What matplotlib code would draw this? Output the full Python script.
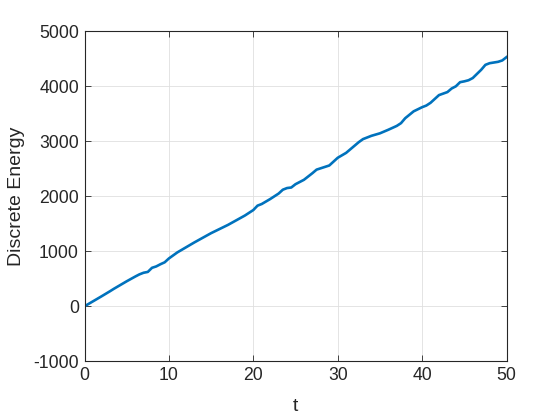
import matplotlib.pyplot as plt

# Values
t = [0, 1, 2, 3, 3.5, 4, 5, 6, 6.5, 7, 7.5, 8, 8.5, 9, 9.5, 10, 11, 12, 13, 14,
     15, 16, 17, 18, 19, 20, 20.5, 21, 22, 23, 23.5, 24, 24.5, 25, 26, 27, 27.5,
     28, 29, 30, 31, 32, 32.5, 33, 34, 35, 36, 37, 37.5, 38, 39, 40, 40.5, 41,
     42, 43, 43.5, 44, 44.5, 45, 45.5, 46, 47, 47.5, 48, 49, 49.5, 50]
energy = [0, 90, 180, 272, 320, 365, 455, 540, 580, 610, 625, 700, 725, 765, 800,
          870, 980, 1070, 1160, 1245, 1330, 1405, 1480, 1565, 1650, 1750, 1830,
          1860, 1950, 2050, 2120, 2150, 2160, 2220, 2300, 2420, 2485, 2510, 2560,
          2700, 2790, 2920, 2985, 3040, 3100, 3145, 3210, 3280, 3330, 3420, 3545,
          3620, 3650, 3700, 3840, 3895, 3960, 4000, 4075, 4090, 4110, 4150, 4300,
          4390, 4420, 4445, 4470, 4530]

plt.rcParams['font.family'] = ['Liberation Sans', 'DejaVu Sans']
plt.rcParams['axes.unicode_minus'] = False
txt = '#262626'

fig = plt.figure(figsize=(5.6, 4.2), dpi=100)
ax = fig.add_axes([84.5 / 560, 1 - 361.3 / 420, 422 / 560, 330 / 420])

ax.plot(t, energy, color='#0072BD', linewidth=1.9)

ax.set_xlim(0, 50)
ax.set_ylim(-1000, 5000)
ax.set_xticks(range(0, 51, 10))
ax.set_yticks(range(-1000, 5001, 1000))
ax.grid(True, color='#dfdfdf', linewidth=0.6)
ax.set_axisbelow(True)

ax.tick_params(direction='in', top=True, right=True, colors=txt,
               labelsize=12.7, length=4, width=0.6, pad=4)
for s in ax.spines.values():
    s.set_color(txt)
    s.set_linewidth(0.8)

ax.set_xlabel('t', fontsize=14, color=txt, labelpad=10)
ax.set_ylabel('Discrete Energy', fontsize=14, color=txt, labelpad=6)

fig.savefig('out.png', dpi=100)
